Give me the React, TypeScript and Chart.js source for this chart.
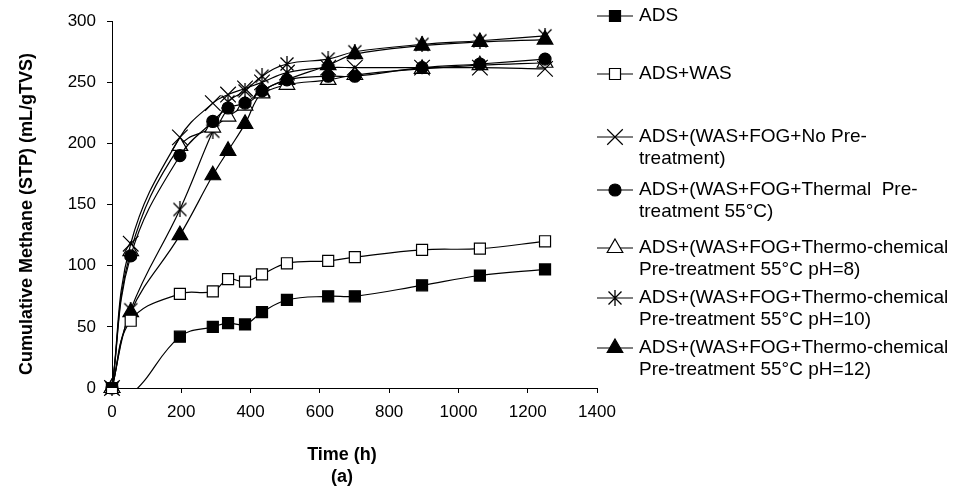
import React, { useEffect, useRef } from 'react';
import { Chart, registerables } from 'chart.js';

Chart.register(...registerables);

// ---- data ----
const timeHours = [0, 54, 196, 291, 335, 384, 433, 505, 624, 701, 895, 1062, 1250];
const adsValues = [0, -5, 42, 50, 53, 52, 62, 72, 75, 75, 84, 92, 97];
const adsWasValues = [0, 55, 77, 79, 89, 87, 93, 102, 104, 107, 113, 114, 120];
const noPreValues = [0, 118, 205, 233, 240, 245, 250, 258, 262, 262, 262, 262, 261];
const thermalValues = [0, 108, 190, 218, 229, 233, 243, 252, 255, 255, 262, 265, 269];
const ph8Values = [0, 112, 198, 213, 222, 231, 241, 248, 252, 256, 261, 264, 266];
const ph10Values = [0, 64, 146, 210, 234, 243, 255, 265, 269, 275, 281, 284, 288];
const ph12Values = [0, 62, 125, 174, 194, 216, 242, 252, 264, 273, 280, 283, 285];

const seriesLabels: string[][] = [
  ['ADS'],
  ['ADS+WAS'],
  ['ADS+(WAS+FOG+No Pre-', 'treatment)'],
  ['ADS+(WAS+FOG+Thermal  Pre-', 'treatment 55°C)'],
  ['ADS+(WAS+FOG+Thermo-chemical', 'Pre-treatment 55°C pH=8)'],
  ['ADS+(WAS+FOG+Thermo-chemical', 'Pre-treatment 55°C pH=10)'],
  ['ADS+(WAS+FOG+Thermo-chemical', 'Pre-treatment 55°C pH=12)'],
];

const xMin = 0;
const xMax = 1400;
const xStep = 200;
const yMin = 0;
const yMax = 300;
const yStep = 50;
const xTitleLines = ['Time (h)', '(a)'];
const yTitle = 'Cumulative Methane (STP) (mL/gTVS)';

const FONT = '"Liberation Sans", Arial, sans-serif';

function makeAsterisk(size: number): HTMLCanvasElement {
  const c = document.createElement('canvas');
  c.width = size;
  c.height = size;
  const g = c.getContext('2d')!;
  g.strokeStyle = '#000';
  g.lineWidth = 1.3;
  const m = size / 2;
  const d = size / 2 - 1.5;
  g.beginPath();
  g.moveTo(m - d, m - d); g.lineTo(m + d, m + d);
  g.moveTo(m + d, m - d); g.lineTo(m - d, m + d);
  g.moveTo(m, 0); g.lineTo(m, size);
  g.stroke();
  return c;
}

function drawMarker(ctx: CanvasRenderingContext2D, style: any, x: number, y: number, r: number, fill: string) {
  ctx.save();
  ctx.strokeStyle = '#000';
  ctx.fillStyle = fill;
  ctx.lineWidth = 1.2;
  if (typeof style !== 'string') {
    ctx.drawImage(style, x - style.width / 2, y - style.height / 2);
    ctx.restore();
    return;
  }
  ctx.beginPath();
  if (style === 'rect') {
    const s = Math.SQRT1_2 * r;
    ctx.rect(x - s, y - s, 2 * s, 2 * s);
    ctx.fill();
    ctx.stroke();
  } else if (style === 'circle') {
    ctx.arc(x, y, r, 0, Math.PI * 2);
    ctx.fill();
    ctx.stroke();
  } else if (style === 'triangle') {
    const a = (2 * Math.PI) / 3;
    ctx.moveTo(x, y - r);
    ctx.lineTo(x + Math.sin(a) * r, y - Math.cos(a) * r);
    ctx.lineTo(x + Math.sin(2 * a) * r, y - Math.cos(2 * a) * r);
    ctx.closePath();
    ctx.fill();
    ctx.stroke();
  } else if (style === 'crossRot') {
    const o = Math.SQRT1_2 * r;
    ctx.moveTo(x - o, y - o); ctx.lineTo(x + o, y + o);
    ctx.moveTo(x + o, y - o); ctx.lineTo(x - o, y + o);
    ctx.stroke();
  }
  ctx.restore();
}

export default function App() {
  const ref = useRef<HTMLCanvasElement>(null);

  useEffect(() => {
    const canvas = ref.current!;
    const asterisk = makeAsterisk(16);
    const styles: any[] = ['rect', 'rect', 'crossRot', 'circle', 'triangle', asterisk, 'triangle'];
    const fills = ['#000', '#fff', '#000', '#000', '#fff', '#000', '#000'];
    const radii = [7.8, 7.8, 11, 6, 9, 8, 9];
    const allValues = [adsValues, adsWasValues, noPreValues, thermalValues, ph8Values, ph10Values, ph12Values];

    const datasets = allValues.map((vals, i) => ({
      label: seriesLabels[i].join(' '),
      data: timeHours.map((t, j) => ({ x: t, y: vals[j] })),
      borderColor: '#000',
      borderWidth: 1.2,
      tension: 0.4,
      pointStyle: styles[i],
      pointRadius: radii[i],
      pointHoverRadius: radii[i],
      pointBackgroundColor: fills[i],
      pointBorderColor: '#000',
      pointBorderWidth: 1.2,
      clip: i === 0 ? { left: 20, top: 20, right: 20, bottom: 0 } : 20,
    }));

    const legendY = [16, 74, 137, 190, 248, 298, 348];

    const overlay = {
      id: 'overlay',
      afterDraw(chart: any) {
        const ctx: CanvasRenderingContext2D = chart.ctx;
        const area = chart.chartArea;
        ctx.save();
        ctx.fillStyle = '#000';
        ctx.font = `bold 18px ${FONT}`;
        ctx.textAlign = 'center';
        ctx.textBaseline = 'middle';
        // x axis title
        xTitleLines.forEach((line, k) => {
          ctx.fillText(line, 342, 455 + k * 22);
        });
        // y axis title
        ctx.save();
        ctx.translate(27, 214);
        ctx.rotate(-Math.PI / 2);
        ctx.fillText(yTitle, 0, 0);
        ctx.restore();
        // legend
        const lx0 = area.right;
        const lx1 = lx0 + 36;
        ctx.font = `19px ${FONT}`;
        ctx.textAlign = 'left';
        seriesLabels.forEach((lines, i) => {
          const y = legendY[i];
          ctx.strokeStyle = '#000';
          ctx.lineWidth = 1.2;
          ctx.beginPath();
          ctx.moveTo(lx0, y);
          ctx.lineTo(lx1, y);
          ctx.stroke();
          drawMarker(ctx, styles[i], (lx0 + lx1) / 2, y, radii[i], fills[i]);
          ctx.fillStyle = '#000';
          lines.forEach((t, k) => ctx.fillText(t, lx1 + 6, y + k * 22));
        });
        ctx.restore();
      },
    };

    const chart = new Chart(canvas, {
      type: 'line',
      data: { datasets },
      options: {
        animation: false,
        responsive: false,
        layout: { padding: { left: 0, top: 17, right: 362, bottom: 0 } },
        plugins: { legend: { display: false }, tooltip: { enabled: false } },
        scales: {
          x: {
            type: 'linear',
            min: xMin,
            max: xMax,
            ticks: {
              stepSize: xStep,
              color: '#000',
              font: { family: FONT, size: 17 },
              padding: 9,
              maxRotation: 0,
              callback: (v: any) => String(v),
            },
            grid: { drawOnChartArea: false, tickLength: 5, color: '#000' },
            border: { color: '#000', width: 1 },
            afterFit: (s: any) => { s.height = 114; },
          },
          y: {
            type: 'linear',
            min: yMin,
            max: yMax,
            ticks: {
              stepSize: yStep,
              color: '#000',
              font: { family: FONT, size: 17 },
              padding: 11,
              callback: (v: any) => String(v),
            },
            grid: { drawOnChartArea: false, tickLength: 5, color: '#000' },
            border: { color: '#000', width: 1 },
            afterFit: (s: any) => { s.width = 112; },
          },
        },
      },
      plugins: [overlay],
    } as any);

    return () => chart.destroy();
  }, []);

  return (
    <div style={{ position: 'absolute', left: 0, top: 0, width: 959, height: 502, background: '#fff' }}>
      <canvas ref={ref} width={959} height={502} style={{ display: 'block' }} />
    </div>
  );
}
